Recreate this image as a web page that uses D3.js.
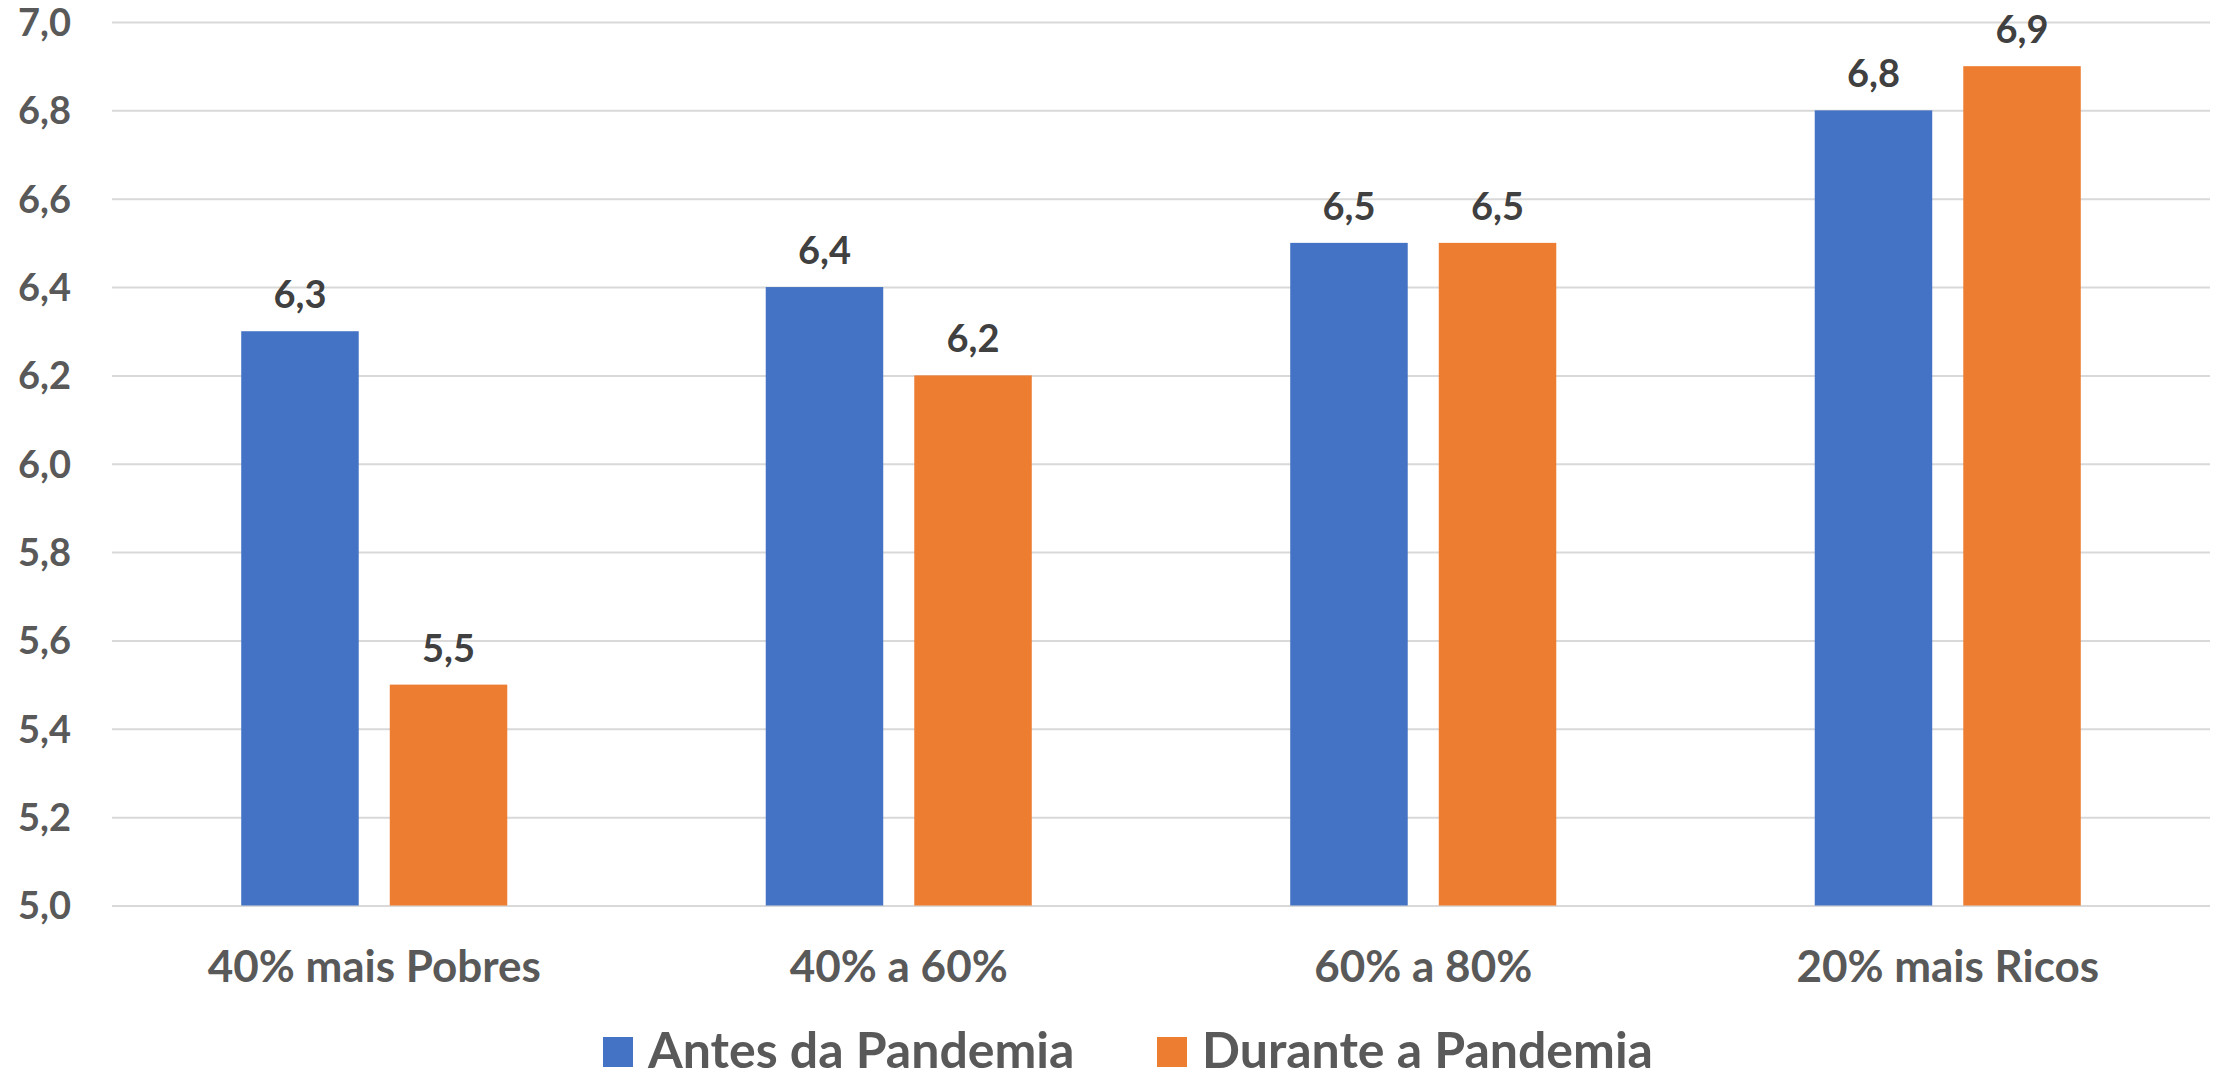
<!DOCTYPE html>
<html>
<head>
<meta charset="utf-8">
<script src="https://cdn.jsdelivr.net/npm/d3@7"></script>
<style>
  html, body { margin: 0; padding: 0; background: #ffffff; }
  svg { display: block; }
</style>
</head>
<body>
<svg id="chart" width="2219" height="1072"></svg>
<script>
const categories = ["40% mais Pobres", "40% a 60%", "60% a 80%", "20% mais Ricos"];
const seriesNames = ["Antes da Pandemia", "Durante a Pandemia"];
const antes = [6.3, 6.4, 6.5, 6.8];
const durante = [5.5, 6.2, 6.5, 6.9];
const yTicks = [5.0, 5.2, 5.4, 5.6, 5.8, 6.0, 6.2, 6.4, 6.6, 6.8, 7.0];
const colors = ["#4472C4", "#ED7D31"];

(function () {
const svg = d3.select("#chart");
const plotLeft = 112, plotRight = 2210, plotTop = 22, plotBottom = 905.5;
const FONT = "Lato, 'Open Sans', sans-serif";

const loc = d3.formatLocale({decimal: ",", thousands: ".", grouping: [3], currency: ["R$", ""]});
const fmt = loc.format(".1f");

const y = d3.scaleLinear().domain([5, 7]).range([plotBottom, plotTop]);
const x0 = d3.scaleBand().domain(categories).range([plotLeft, plotRight]).paddingInner(0).paddingOuter(0);
const x1 = d3.scaleBand().domain(seriesNames).range([0, x0.bandwidth()]).paddingInner(0.209).paddingOuter(0.87);

// gridlines
const grid = svg.append("g").attr("transform", `translate(${plotLeft},0)`)
  .call(d3.axisLeft(y).tickValues(yTicks).tickSize(-(plotRight - plotLeft)).tickFormat(""));
grid.select(".domain").remove();
grid.selectAll(".tick line").attr("stroke", "#d9d9d9").attr("stroke-width", 2);

// y tick labels
const yAxis = svg.append("g").attr("transform", `translate(71,0)`)
  .call(d3.axisLeft(y).tickValues(yTicks).tickSize(0).tickPadding(0).tickFormat(fmt));
yAxis.select(".domain").remove();
yAxis.selectAll("text")
  .attr("font-family", FONT).attr("font-weight", "bold").attr("font-size", 38)
  .attr("fill", "#595959").attr("dy", "0.35em").attr("text-anchor", "end");

// bars
const data = categories.map((c, i) => ({cat: c, values: [
  {s: seriesNames[0], v: antes[i], c: colors[0]},
  {s: seriesNames[1], v: durante[i], c: colors[1]}
]}));

const groups = svg.append("g").selectAll("g").data(data).join("g")
  .attr("transform", d => `translate(${x0(d.cat)},0)`);

groups.selectAll("rect").data(d => d.values).join("rect")
  .attr("x", d => x1(d.s))
  .attr("width", x1.bandwidth())
  .attr("y", d => y(d.v))
  .attr("height", d => y(5) - y(d.v))
  .attr("fill", d => d.c);

groups.selectAll("text.val").data(d => d.values).join("text")
  .attr("class", "val")
  .attr("x", d => x1(d.s) + x1.bandwidth() / 2)
  .attr("y", d => y(d.v) - 23)
  .attr("text-anchor", "middle")
  .attr("font-family", FONT).attr("font-weight", "bold").attr("font-size", 38)
  .attr("fill", "#404040")
  .text(d => fmt(d.v));

// x axis labels
const xAxis = svg.append("g").attr("transform", `translate(0,${plotBottom})`)
  .call(d3.axisBottom(x0).tickSize(0).tickPadding(0));
xAxis.select(".domain").remove();
xAxis.selectAll("text")
  .attr("font-family", FONT).attr("font-weight", "bold").attr("font-size", 44)
  .attr("fill", "#595959").attr("y", 76).attr("dy", 0);

// legend
const legendX = [603, 1157];
const leg = svg.append("g").selectAll("g").data(seriesNames).join("g")
  .attr("transform", (d, i) => `translate(${legendX[i]},1037)`);
leg.append("rect").attr("width", 30).attr("height", 30).attr("fill", (d, i) => colors[i]);
leg.append("text").attr("x", 45).attr("y", 31)
  .attr("font-family", FONT).attr("font-weight", "bold").attr("font-size", 50)
  .attr("fill", "#595959").text(d => d);
})();
</script>
</body>
</html>
